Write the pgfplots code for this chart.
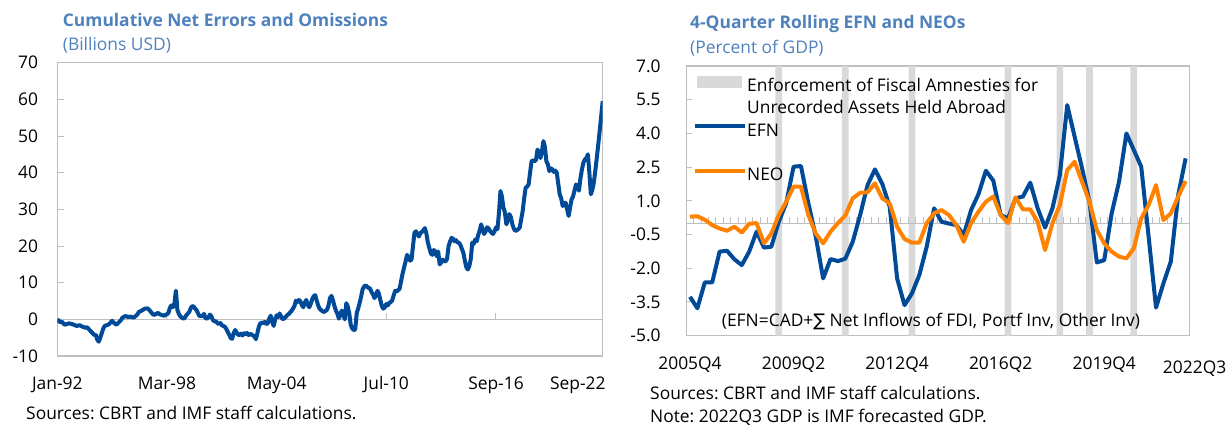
\documentclass[border=0pt]{standalone}
\usepackage{pgfplots}
\pgfplotsset{compat=1.18}
\usepackage{fontspec}
\setmainfont{Open Sans}
\newfontfamily\dejavu{DejaVu Sans}
\definecolor{titleblue}{RGB}{79,129,189}
\definecolor{efnblue}{RGB}{0,74,152}
\definecolor{neoorange}{RGB}{255,130,0}
\definecolor{barg}{RGB}{217,217,217}
\definecolor{framegrey}{RGB}{191,191,191}
\newcommand{\fs}{\fontsize{17.4bp}{20bp}\selectfont}
\begin{document}
\frenchspacing
\begin{tikzpicture}[font=\fs]
\path[use as bounding box] (0,0) rectangle (1227bp,-425bp);

% ---------------- LEFT CHART ----------------
\begin{axis}[
  at={(57.3bp,-356bp)}, anchor=south west,
  scale only axis, width=545.4bp, height=293.3bp,
  xmin=0, xmax=368, ymin=-10, ymax=70,
  axis line style={draw=framegrey, line width=1.2bp},
  ytick={-10,0,10,20,30,40,50,60,70},
  yticklabels={-10,0,10,20,30,40,50,60,70},
  ytick pos=left, tick align=inside, major tick length=7bp,
  y tick style={draw=framegrey, line width=1bp},
  yticklabel style={anchor=east, inner sep=0pt, xshift=-19bp},
  xtick={0,74,148,222,296},
  xticklabels={Jan-92,Mar-98,May-04,Jul-10,Sep-16},
  x tick style={draw=none},
  xticklabel style={anchor=base, inner sep=0pt, yshift=-33.5bp},
  extra x ticks={368}, extra x tick labels={Sep-22},
  extra x tick style={major tick length=0pt, xticklabel style={anchor=base east, xshift=3bp}},
  tick label style={font=\fs},
]
\addplot[draw=framegrey, line width=1.5bp, forget plot] coordinates {(0,0) (368,0)};
\addplot[ycomb, draw=framegrey, line width=1bp, mark=none, forget plot] coordinates {(74,1.6) (148,1.6) (222,1.6) (296,1.6)};
\addplot[draw=efnblue, line width=4bp, line join=round, mark=none] coordinates {
(0,0) (2,-0.8) (3,-0.6) (5,-1.5) (7,-1.2) (8,-1.1) (10,-1.3) (12,-1.6) (13,-1.8) (15,-1.6) (17,-2.0) (19,-2.3) (20,-2.1) (22,-3.0) (23,-3.4) (25,-4.3) (26,-4.2) (27,-5.6) (28,-6.1) (29,-5.0) (30,-3.8) (31,-2.5) (32,-1.8) (34,-1.5) (35,-1.3) (36,-0.8) (37,-0.4) (38,-0.9) (40,-1.5) (41,-1.0) (43,-0.2) (44,0.5) (46,0.9) (48,0.6) (49,0.8) (51,0.5) (52,0.6) (54,1.3) (55,2.0) (57,2.4) (59,2.9) (61,3.0) (62,2.6) (64,1.6) (65,1.2) (67,1.5) (68,1.8) (69,1.4) (71,1.1) (72,1.0) (74,1.4) (75,1.8) (76,3.2) (77,3.8) (78,3.3) (79,4.2) (80,7.8) (80.5,5.5) (81,2.6) (82,1.5) (83,0.8) (85,0.2) (86,0.4) (87,1.1) (89,2.0) (90,3.0) (91,3.6) (92,3.5) (93,2.9) (94,2.5) (95,1.6) (96,0.8) (97,1.0) (98,0.8) (99,1.5) (100,0.3) (101,0.2) (102,0.6) (103,1.3) (104,0.8) (105,-0.2) (106,-0.6) (107,-0.5) (108,-1.0) (109,-1.3) (110,-1.0) (111,-1.6) (112,-1.8) (113,-2.0) (114,-2.6) (115,-3.4) (116,-4.2) (117,-5.1) (118,-5.3) (119,-3.8) (120,-2.9) (121,-3.6) (122,-4.2) (123,-4.3) (124,-3.9) (125,-4.4) (126,-3.8) (127,-4.1) (128,-3.7) (129,-4.3) (130,-4.0) (131,-4.1) (132,-4.4) (133,-4.6) (134,-5.4) (135,-3.8) (136,-2.0) (137,-1.1) (138,-0.9) (139,-1.0) (140,-0.7) (141,-1.3) (142,-1.1) (143,0.2) (144,1.0) (145,-0.7) (146,-1.8) (147,0.0) (148,1.1) (149,0.6) (150,1.6) (151,0.8) (152,0.0) (153,0.2) (154,0.6) (155,1.1) (156,1.4) (157,1.8) (158,2.3) (159,2.9) (160,3.6) (161,5.1) (162,4.7) (163,5.3) (164,4.9) (165,3.9) (166,3.3) (167,4.6) (168,5.3) (169,4.0) (170,3.3) (171,4.2) (172,5.5) (173,6.3) (174,6.6) (175,5.2) (176,3.8) (177,2.9) (178,2.5) (179,2.2) (180,2.0) (181,2.3) (182,2.6) (183,3.8) (184,5.8) (185,6.4) (186,5.2) (187,3.6) (188,2.4) (189,1.5) (190,0.2) (191,1.5) (192,2.4) (193,1.2) (194,0.0) (195,4.4) (196,3.5) (197,1.6) (198,-1.5) (199,-2.5) (200,-2.9) (201,-2.8) (202,1.6) (203,3.0) (204,4.5) (205,6.2) (206,8.2) (207,8.9) (208,9.3) (209,8.9) (210,8.6) (211,8.4) (212,7.5) (213,6.8) (214,5.8) (215,6.5) (216,7.8) (217,7.0) (218,5.2) (219,3.6) (220,2.9) (221,3.3) (222,4.2) (223,3.8) (224,4.5) (225,4.7) (226,5.2) (227,6.6) (228,7.8) (229,7.6) (230,8.0) (231,8.4) (232,10.5) (233,12.5) (234,14.2) (235,15.8) (236,17.6) (237,17.0) (238,16.0) (239,16.3) (240,20.0) (241,23.6) (242,24.0) (243,23.3) (244,22.6) (245,23.6) (246,23.8) (247,24.3) (248,24.9) (249,23.5) (250,21.0) (251,19.5) (252,18.0) (253,17.6) (254,18.9) (255,18.6) (256,17.2) (257,18.5) (258,15.0) (259,15.5) (260,16.3) (261,15.9) (262,15.8) (263,16.5) (264,20.0) (265,21.2) (266,22.2) (267,22.0) (268,21.3) (269,21.6) (270,21.0) (271,20.9) (272,20.3) (273,19.2) (274,18.1) (275,16.0) (276,14.2) (277,13.6) (278,14.5) (279,16.5) (280,20.9) (281,20.6) (282,21.8) (283,21.3) (284,23.0) (285,24.2) (286,25.9) (287,24.5) (288,23.3) (289,24.0) (290,25.1) (291,24.8) (292,24.1) (293,23.6) (294,23.3) (295,24.0) (296,25.1) (297,24.6) (298,29.0) (299,35.0) (300,33.5) (301,30.5) (302,29.2) (303,25.9) (304,27.0) (305,28.7) (306,27.9) (307,26.0) (308,24.8) (309,24.1) (310,24.3) (311,24.6) (312,25.0) (313,27.3) (314,29.5) (315,33.0) (316,35.9) (317,36.2) (318,36.8) (319,40.0) (320,43.1) (321,43.4) (322,43.1) (323,43.5) (324,46.3) (325,45.5) (326,44.0) (327,45.8) (328,48.6) (329,47.0) (330,43.1) (331,42.3) (332,40.4) (333,41.2) (334,40.9) (335,40.2) (336,40.6) (337,40.0) (338,37.0) (339,34.1) (340,33.0) (341,30.9) (342,31.5) (343,31.8) (344,30.0) (345,28.2) (346,30.5) (347,32.7) (348,33.5) (349,35.2) (350,36.8) (351,36.2) (352,35.1) (353,38.5) (354,40.9) (355,42.8) (356,43.6) (357,44.0) (358,45.0) (359,40.0) (360,34.1) (361,35.3) (362,37.3) (363,40.5) (364,44.0) (365,47.7) (366,51.5) (367,55.5) (368,59.5)
};
\end{axis}

\node[anchor=base west, inner sep=0pt, text=titleblue, font=\fs\bfseries] at (62.7bp,-26.8bp) {Cumulative Net Errors and Omissions};
\node[anchor=base west, inner sep=0pt, text=titleblue] at (62.7bp,-50bp) {(Billions USD)};
\node[anchor=base west, inner sep=0pt] at (26bp,-419bp) {Sources: CBRT and IMF staff calculations.};

% ---------------- RIGHT CHART ----------------
\begin{axis}[
  at={(686.3bp,-335.7bp)}, anchor=south west,
  scale only axis, width=503bp, height=269.7bp,
  xmin=-0.5, xmax=67.5, ymin=-5, ymax=7,
  axis line style={draw=framegrey, line width=1.2bp},
  ytick={-5,-3.5,-2,-0.5,1,2.5,4,5.5,7},
  yticklabels={-5.0,-3.5,-2.0,-0.5,1.0,2.5,4.0,5.5,7.0},
  ytick pos=left, tick align=inside, major tick length=6bp,
  y tick style={draw=framegrey, line width=1bp},
  yticklabel style={anchor=east, inner sep=0pt, xshift=-25.5bp},
  xtick={0,14,28,42,56},
  xticklabels={2005Q4,2009Q2,2012Q4,2016Q2,2019Q4},
  x tick style={draw=none},
  xticklabel style={anchor=base, inner sep=0pt, yshift=-33.3bp},
  extra x ticks={67}, extra x tick labels={2022Q3},
  extra x tick style={major tick length=0pt, xticklabel style={xshift=9bp, yshift=-4bp}},
  tick label style={font=\fs},
  legend cell align=left,
  legend style={at={(axis description cs:0.0133,0.9646)}, anchor=north west,
    draw=none, fill=none, inner sep=0pt, row sep=0pt, column sep=0bp,
    nodes={inner xsep=0pt, inner ysep=2.8bp, text height=12.5bp, text depth=4.2bp, font=\fs}},
]
\addplot[ybar, bar width=6.7bp, bar shift=0pt, fill=barg, draw=none,
  legend image code/.code={\fill[barg] (0bp,-0.3bp) rectangle (45bp,11.7bp);}]
  coordinates {(12,7) (21,7) (30,7) (43,7) (50,7) (54,7) (60,7)};
\addlegendentry{Enforcement of Fiscal Amnesties for}
\addlegendimage{empty legend}
\addlegendentry{Unrecorded Assets Held Abroad}
\addplot[ybar, bar width=6.7bp, bar shift=0pt, fill=barg, draw=none, forget plot]
  coordinates {(12,-5) (21,-5) (30,-5) (43,-5) (50,-5) (54,-5) (60,-5)};
\addplot[draw=framegrey, line width=1.5bp, forget plot] coordinates {(-0.5,0) (67.5,0)};
\addplot[ycomb, draw=framegrey, line width=1bp, mark=none, forget plot] coordinates {
(0.5,0.27) (1.5,0.27) (2.5,0.27) (3.5,0.27) (4.5,0.27) (5.5,0.27) (6.5,0.27) (7.5,0.27) (8.5,0.27) (9.5,0.27)
(10.5,0.27) (11.5,0.27) (12.5,0.27) (13.5,0.27) (14.5,0.27) (15.5,0.27) (16.5,0.27) (17.5,0.27) (18.5,0.27) (19.5,0.27)
(20.5,0.27) (21.5,0.27) (22.5,0.27) (23.5,0.27) (24.5,0.27) (25.5,0.27) (26.5,0.27) (27.5,0.27) (28.5,0.27) (29.5,0.27)
(30.5,0.27) (31.5,0.27) (32.5,0.27) (33.5,0.27) (34.5,0.27) (35.5,0.27) (36.5,0.27) (37.5,0.27) (38.5,0.27) (39.5,0.27)
(40.5,0.27) (41.5,0.27) (42.5,0.27) (43.5,0.27) (44.5,0.27) (45.5,0.27) (46.5,0.27) (47.5,0.27) (48.5,0.27) (49.5,0.27)
(50.5,0.27) (51.5,0.27) (52.5,0.27) (53.5,0.27) (54.5,0.27) (55.5,0.27) (56.5,0.27) (57.5,0.27) (58.5,0.27) (59.5,0.27)
(60.5,0.27) (61.5,0.27) (62.5,0.27) (63.5,0.27) (64.5,0.27) (65.5,0.27) (66.5,0.27)};
\addplot[draw=efnblue, line width=4bp, line join=round, mark=none,
  legend image code/.code={\draw[efnblue, line width=4bp] (-2bp,6bp) -- (48bp,6bp);}] coordinates {
(0,-3.27) (1,-3.78) (2,-2.63) (3,-2.63) (4,-1.26) (5,-1.22) (6,-1.60) (7,-1.86) (8,-1.26) (9,-0.37)
(10,-1.08) (11,-1.04) (12,0.07) (13,0.89) (14,2.52) (15,2.55) (16,0.89) (17,-0.59) (18,-2.45) (19,-1.59)
(20,-1.68) (21,-1.57) (22,-0.82) (23,0.37) (24,1.70) (25,2.40) (26,1.75) (27,0.74) (28,-2.45) (29,-3.64)
(30,-3.12) (31,-2.30) (32,-1.04) (33,0.67) (34,0.07) (35,-0.01) (36,-0.08) (37,-0.52) (38,0.59) (39,1.30)
(40,2.34) (41,1.90) (42,0.37) (43,0.22) (44,1.11) (45,1.19) (46,1.81) (47,0.67) (48,-0.19) (49,0.67)
(50,2.15) (51,5.26) (52,3.85) (53,2.45) (54,0.96) (55,-1.74) (56,-1.64) (57,0.44) (58,1.85) (59,4.00)
(60,3.26) (61,2.52) (62,-0.59) (63,-3.75) (64,-2.67) (65,-1.70) (66,1.26) (67,2.89)};
\addlegendentry{EFN}
\addlegendimage{empty legend}
\addlegendentry{}
\addplot[draw=neoorange, line width=4bp, line join=round, mark=none,
  legend image code/.code={\draw[neoorange, line width=4bp] (-2bp,6bp) -- (48bp,6bp);}] coordinates {
(0,0.30) (1,0.31) (2,0.16) (3,-0.08) (4,-0.23) (5,-0.33) (6,-0.15) (7,-0.41) (8,-0.02) (9,0.01)
(10,-0.89) (11,-0.45) (12,0.37) (13,0.96) (14,1.63) (15,1.63) (16,0.37) (17,-0.45) (18,-0.89) (19,-0.37)
(20,0.01) (21,0.35) (22,1.11) (23,1.36) (24,1.38) (25,1.78) (26,1.11) (27,0.89) (28,-0.15) (29,-0.70)
(30,-0.86) (31,-0.86) (32,0.01) (33,0.45) (34,0.59) (35,0.37) (36,-0.08) (37,-0.82) (38,0.01) (39,0.52)
(40,0.96) (41,1.19) (42,0.37) (43,0.01) (44,1.16) (45,0.62) (46,0.62) (47,0.07) (48,-1.19) (49,0.01)
(50,0.81) (51,2.37) (52,2.74) (53,1.85) (54,0.96) (55,-0.30) (56,-0.89) (57,-1.26) (58,-1.48) (59,-1.56)
(60,-1.11) (61,0.22) (62,0.81) (63,1.70) (64,0.15) (65,0.44) (66,1.19) (67,1.88)};
\addlegendentry{NEO}
\end{axis}

\node[anchor=base west, inner sep=0pt] at (721.7bp,-326.5bp) {(EFN=CAD+{\dejavu ∑} Net Inflows of FDI, Portf Inv, Other Inv)};
\node[anchor=base west, inner sep=0pt, text=titleblue, font=\fs\bfseries] at (690bp,-28bp) {4-Quarter Rolling EFN and NEOs};
\node[anchor=base west, inner sep=0pt, text=titleblue] at (690bp,-53bp) {(Percent of GDP)};
\node[anchor=base west, inner sep=0pt] at (650bp,-399bp) {Sources: CBRT and IMF staff calculations.};
\node[anchor=base west, inner sep=0pt] at (650bp,-422bp) {Note: 2022Q3 GDP is IMF forecasted GDP.};
\end{tikzpicture}
\end{document}
